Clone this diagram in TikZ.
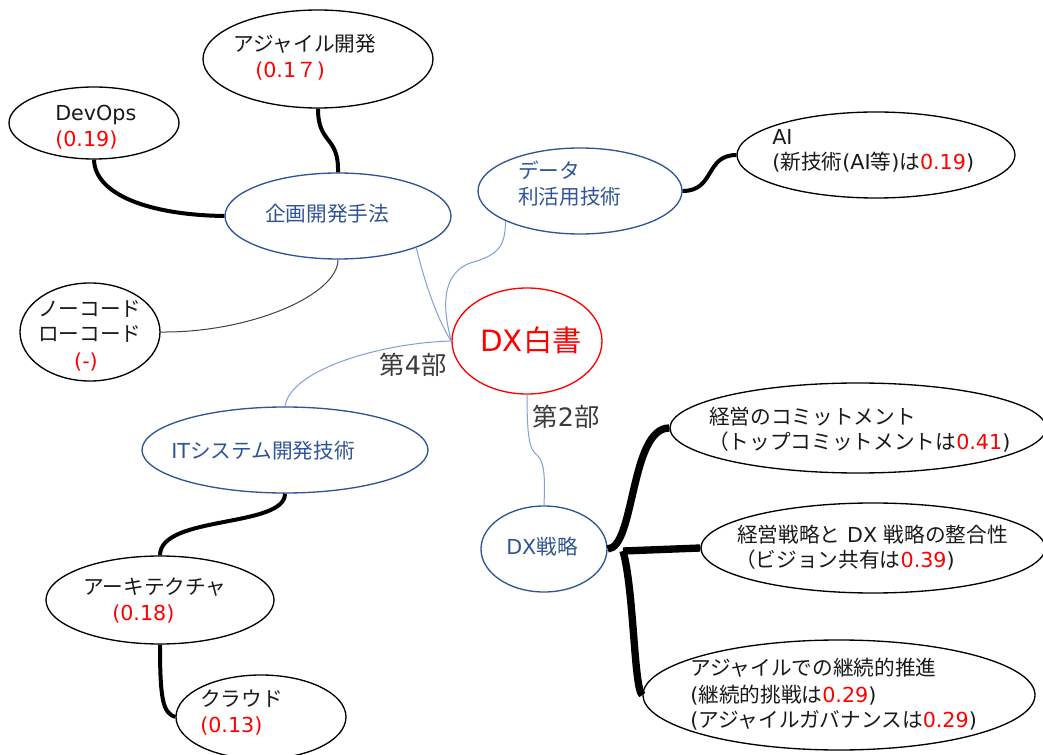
\documentclass[tikz,border=0pt]{standalone}
\usepackage{fontspec}
\setmainfont{DejaVu Sans}
\newfontfamily\jp{Noto Sans CJK JP}
\newcommand{\jt}[1]{{\jp #1}}
\usetikzlibrary{shapes.geometric}
\definecolor{nblue}{HTML}{2F5597}
\definecolor{lblue}{HTML}{7F9FD5}
\definecolor{nred}{HTML}{FF0000}
\definecolor{ink}{HTML}{1A1A1A}
\definecolor{dgray}{HTML}{404040}
\begin{document}
\begin{tikzpicture}[x=0.75pt,y=-0.75pt,
  oval/.style={ellipse, draw=black, line width=1pt, fill=white, inner sep=0pt},
  bluoval/.style={oval, draw=nblue},
  E/.style 2 args={minimum width=#1*1.5pt, minimum height=#2*1.5pt},
  txt/.style={anchor=west, inner sep=0pt, font=\fontsize{15.5}{19}\selectfont, text=ink},
  btxt/.style={txt, text=nblue},
  rtxt/.style={txt, text=nred},
  part/.style={anchor=center, inner sep=0pt, font=\fontsize{19}{22}\selectfont, text=ink!85},
  thickA/.style={line width=3pt, draw=black},
  thickB/.style={line width=5.5pt, draw=black},
  thinB/.style={line width=0.75pt, draw=lblue},
  thinG/.style={line width=0.75pt, draw=dgray},
]
\useasboundingbox (0,0) rectangle (1043,755);

% ellipses
\node[oval, E={115}{49}] (agile) at (318,59) {};
\node[oval, E={85}{36}] (devops) at (94,123) {};
\node[bluoval, E={113}{43}] (kikaku) at (338,216) {};
\node[bluoval, E={102}{43}] (data) at (580,191) {};
\node[oval, E={139}{43}] (ai) at (876,155) {};
\node[oval, draw=nred, E={75}{53}] (dx) at (527,341) {};
\node[oval, E={70}{49}] (nocode) at (90,332) {};
\node[bluoval, E={143}{43}] (it) at (285,450) {};
\node[oval, E={114}{44}] (arch) at (160,600) {};
\node[oval, E={85}{42}] (cloud) at (261,717) {};
\node[bluoval, E={63}{43}] (dxs) at (544,549) {};
\node[oval, E={188}{45}] (commit) at (858,428) {};
\node[oval, E={172}{45}] (align) at (873,548) {};
\node[oval, E={196}{55}] (agile2) at (839,695) {};

% texts
\node[txt] (t1) at (233,44) {\jt{アジャイル開発}};
\node[rtxt] (t2) at (255,71) {(0.1\jt{７})};
\node[txt] (t3) at (55,115) {DevOps};
\node[rtxt] (t4) at (55,140) {(0.19)};
\node[btxt, anchor=center] (t5) at (327,214) {\jt{企画開発手法}};
\node[btxt] (t6) at (518,170) {\jt{データ}};
\node[btxt] (t7) at (518,197) {\jt{利活用技術}};
\node[txt] (t8) at (772,137) {AI};
\node[txt] (t9) at (772,162) {(\jt{新技術}(AI\jt{等})\jt{は}\textcolor{nred}{0.19})};
\node[txt] (t10) at (38,309) {\jt{ノーコード}};
\node[txt] (t11) at (38,334) {\jt{ローコード}};
\node[rtxt, anchor=center] (t12) at (86,362) {(-)};
\node[btxt, anchor=center] (t13) at (263,451) {IT\jt{システム開発技術}};
\node[txt] (t14) at (83,587) {\jt{アーキテクチャ}};
\node[rtxt] (t15) at (112,614) {(0.18)};
\node[txt] (t16) at (200,699) {\jt{クラウド}};
\node[rtxt] (t17) at (200,726) {(0.13)};
\node[anchor=center, inner sep=0pt, font=\fontsize{22}{26}\selectfont, text=nred] (t18) at (531,340) {DX\jt{白書}};
\node[part] (t19) at (413,365) {\jt{第}4\jt{部}};
\node[part] (t20) at (566,417) {\jt{第}2\jt{部}};
\node[btxt, anchor=center] (t21) at (542,547) {DX\jt{戦略}};
\node[txt] (t22) at (709,417) {\jt{経営のコミットメント}};
\node[txt] (t23) at (708,442) {\jt{（トップコミットメントは}\textcolor{nred}{0.41})};
\node[txt] (t24) at (737,535) {\jt{経営戦略と} DX \jt{戦略の整合性}};
\node[txt] (t25) at (735,560) {\jt{（ビジョン共有は}\textcolor{nred}{0.39})};
\node[txt] (t26) at (690,668) {\jt{アジャイルでの継続的推進}};
\node[txt] (t27) at (690,695) {(\jt{継続的挑戦は}\textcolor{nred}{0.29})};
\node[txt] (t28) at (690,720) {(\jt{アジャイルガバナンスは}\textcolor{nred}{0.29})};

% thin connectors
\draw[thinB] (dx.west) .. controls (440,325) and (425,285) .. (kikaku.-22);
\draw[thinB] (dx.west) .. controls (443,310) and (440,275) .. (470,263) .. controls (500,255) and (505,245) .. (data.202);
\draw[thinB] (dx.west) .. controls (380,343) and (290,370) .. (it.north);
\draw[thinG] (kikaku.south) .. controls (338,295) and (250,333) .. (nocode.east);
\draw[thinB] (dx.south) .. controls (527,440) and (530,450) .. (537,455) .. controls (545,462) and (545,480) .. (dxs.north);

% thick connectors
\draw[thickA] (kikaku.west) .. controls (150,215) and (95,195) .. (devops.south);
\draw[thickA] (kikaku.north) .. controls (339,135) and (318,145) .. (agile.south);
\draw[thickA] (data.east) .. controls (715,191) and (705,155) .. (ai.west);
\draw[thickA] (it.south) .. controls (285,528) and (160,515) .. (arch.north);
\draw[thickA] (arch.south) .. controls (160,700) and (163,713) .. (cloud.west);

\coordinate (br) at (623,551);
\draw[thickB] (dxs.east) .. controls (635,548) and (630,428) .. (commit.west);
\draw[thickB] (br) -- (align.west);
\draw[thickB] (br) .. controls (634,590) and (634,690) .. (agile2.west);
\end{tikzpicture}
\end{document}
